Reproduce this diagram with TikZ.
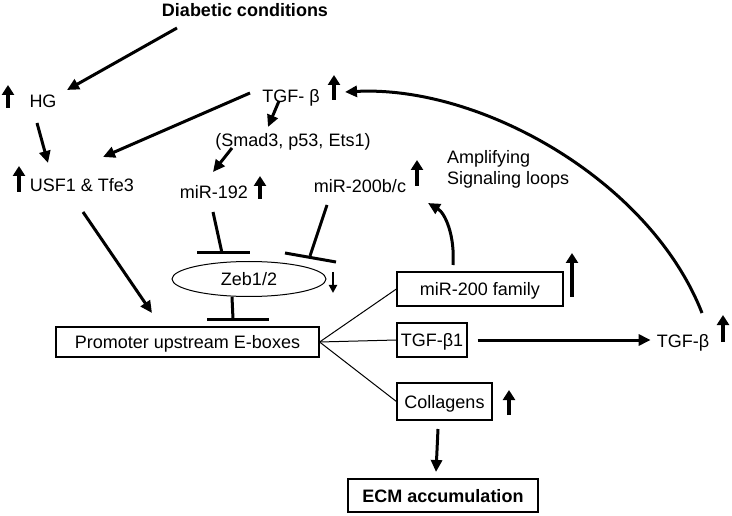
\documentclass[tikz,border=0pt]{standalone}
\usepackage{fontspec}
\setmainfont{Liberation Sans}
\usetikzlibrary{shapes.geometric, calc, arrows.meta}

\begin{document}
\begin{tikzpicture}[x=1pt,y=-1pt,
  every node/.style={font=\fontsize{18}{21}\selectfont,inner sep=1pt,text height=13pt,text depth=0pt},
  box/.style={draw,line width=1.2pt,inner sep=0pt},
  arr/.style={line width=3pt,-{Triangle[length=12pt,width=11pt]}},
  up/.style={line width=4.5pt,-{Triangle[length=10pt,width=12pt]}},
  thk/.style={line width=3pt},
  thn/.style={line width=1pt}]
  \useasboundingbox (0,0) rectangle (732,516);
  \path (245,10) node[font=\fontsize{18}{21}\selectfont\bfseries] (diab) {Diabetic conditions}
  (43,101) node (hg) {HG} (82,185) node (usf) {USF1 \& Tfe3}
  (291,96) node (tgf) {TGF- β} (293,140) node (smad) {(Smad3, p53, Ets1)}
  (214,192) node (m192) {miR-192} (360,186) node (m200) {miR-200b/c};
  \node[anchor=west,align=left,inner sep=0pt,text height=,text depth=] (amp) at (447,169) {Amplifying\\Signaling loops};
  \node[draw,ellipse,line width=1pt,inner sep=0pt,minimum width=154pt,minimum height=35pt] (zeb) at (249,279) {Zeb1/2};
  \node[box,minimum width=263pt,minimum height=30pt] (prom) at (187.5,342) {Promoter upstream E-boxes};
  \node[box,minimum width=166pt,minimum height=34pt] (fam) at (480,289) {miR-200 family};
  \node[box,minimum width=70pt,minimum height=34pt] (tb1) at (432,340) {TGF-β1};
  \node[box,minimum width=95pt,minimum height=37pt] (coll) at (444.5,401.5) {Collagens};
  \node[box,minimum width=190pt,minimum height=33pt,font=\fontsize{18}{21}\selectfont\bfseries] (ecm) at (443,495.5) {ECM accumulation};
  \node (tgfr) at (683,341) {TGF-β};

  \draw[arr] ($(diab)+(-68,18)$) -- ($(hg)+(24,-11)$);
  \draw[arr] ($(hg)+(-6,22)$) -- ($(usf)+(-34,-22)$);
  \draw[arr] ($(tgf)+(-41,-3)$) -- ($(usf)+(21,-28)$);
  \draw[arr] ($(tgf)+(-12,5)$) -- ($(smad)+(-25,-13)$);
  \draw[arr] ($(smad)+(-61,8)$) -- ($(m192)+(-1,-20)$);
  \draw[arr] ($(usf)+(1,27)$) -- ($(prom)+(-35.5,-29)$);

  \draw[thk] ($(m192)+(-1,20)$) -- ($(zeb)+(-27,-26)$);
  \draw[thk] ($(zeb)+(-52,-26)$) -- ($(zeb)+(1,-26)$);
  \draw[thk] ($(m200)+(-33,19)$) -- ($(zeb)+(61,-23)$);
  \draw[thk] ($(zeb)+(36,-26)$) -- ($(zeb)+(87,-17)$);
  \draw[thk] ($(zeb)+(-17,18)$) -- ($(prom)+(45.5,-23)$);
  \draw[thk] ($(prom)+(19.5,-23)$) -- ($(prom)+(81.5,-23)$);

  \draw[thn] (prom.east) -- (fam.west);
  \draw[thn] (prom.east) -- (tb1.west);
  \draw[thn] (prom.east) -- (coll.west);

  \draw[arr] ($(fam)+(-27,-24)$) .. controls ($(fam)+(-25,-54)$) and ($(fam)+(-35,-76)$) .. ($(m200)+(68,17)$);
  \draw[arr,shorten <=10pt,shorten >=5pt] (tb1.east) -- (tb1.east -| tgfr.west);
  \draw[arr] ($(tgfr)+(19,-28)$) .. controls (650,180) and (480,85) .. ($(tgf)+(54,-4)$);
  \draw[arr] ($(coll)+(-6.5,27.5)$) -- ($(ecm)+(-7,-23.5)$);

  \draw[up] ($(hg)+(-35,7)$) -- ($(hg)+(-35,-16)$);
  \draw[up] ($(usf)+(-63,7)$) -- ($(usf)+(-63,-19)$);
  \draw[up] ($(tgf)+(43,4)$) -- ($(tgf)+(43,-21)$);
  \draw[up] ($(m192)+(46,7)$) -- ($(m192)+(46,-16)$);
  \draw[up] ($(m200)+(57,0)$) -- ($(m200)+(57,-26)$);
  \draw[up] ($(fam)+(92,8)$) -- ($(fam)+(92,-36)$);
  \draw[up] ($(tgfr)+(40,1)$) -- ($(tgfr)+(40,-26)$);
  \draw[up] ($(coll)+(64.5,13.5)$) -- ($(coll)+(64.5,-11.5)$);
  \draw[line width=2pt,-{Triangle[length=8pt,width=8pt]}] ($(zeb)+(84,-7)$) -- ($(zeb)+(84,14)$);
\end{tikzpicture}
\end{document}
